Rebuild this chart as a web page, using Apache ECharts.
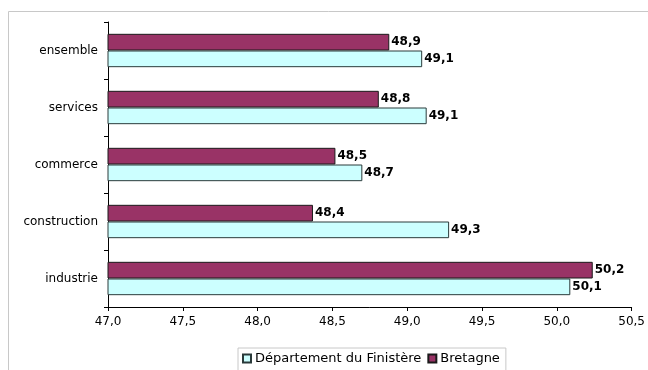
<!DOCTYPE html>
<html>
<head>
<meta charset="utf-8">
<script src="https://cdn.jsdelivr.net/npm/echarts@6/dist/echarts.min.js"></script>
<style>
  html, body { margin: 0; padding: 0; background: #fff; }
  #chart { width: 648px; height: 370px; }
</style>
</head>
<body>
<div id="chart"></div>
<script>
// Data (categories listed bottom to top)
var categories = ['industrie', 'construction', 'commerce', 'services', 'ensemble'];
var finistere = [50.09, 49.28, 48.70, 49.13, 49.10];
var bretagne = [50.24, 48.37, 48.52, 48.81, 48.88];
var seriesNames = ['Département du Finistère', 'Bretagne'];
var xTicks = { min: 47.0, max: 50.5, interval: 0.5 };

function fr(v, d) { return v.toFixed(d).replace('.', ','); }

var FONT = 'DejaVu Sans';
var chart = echarts.init(document.getElementById('chart'), null, { renderer: 'canvas' });

var labelStyle = {
  show: true,
  position: 'right',
  distance: 2,
  color: '#000',
  fontFamily: FONT,
  fontWeight: 'bold',
  fontSize: 12,
  formatter: function (p) { return fr(p.value, 1); }
};

chart.setOption({
  animation: false,
  backgroundColor: '#fff',
  graphic: [{
    type: 'rect',
    shape: { x: 8.5, y: 11.5, width: 700, height: 400 },
    style: { fill: 'none', stroke: '#c8c8c8', lineWidth: 1 },
    silent: true,
    z: -10
  }],
  grid: { left: 108, right: 14, top: 22, bottom: 63, containLabel: false },
  legend: {
    data: seriesNames,
    left: 238,
    top: 348,
    orient: 'horizontal',
    icon: 'rect',
    itemWidth: 8,
    itemHeight: 8,
    itemGap: 6,
    padding: [4, 6, 12, 4],
    borderColor: '#c8c8c8',
    borderWidth: 1,
    textStyle: { fontFamily: FONT, fontSize: 13, color: '#000', padding: [0, 0, 0, -1] }
  },
  xAxis: {
    type: 'value',
    min: xTicks.min,
    max: xTicks.max,
    interval: xTicks.interval,
    axisLine: { show: true, lineStyle: { color: '#000', width: 1 } },
    axisTick: { show: true, length: 4, lineStyle: { color: '#000' } },
    splitLine: { show: false },
    axisLabel: {
      margin: 9,
      color: '#000',
      fontFamily: FONT,
      fontSize: 12,
      formatter: function (v) { return fr(v, 1); }
    }
  },
  yAxis: {
    type: 'category',
    data: categories,
    axisLine: { show: true, lineStyle: { color: '#000', width: 1 } },
    axisTick: { show: true, length: 4, alignWithLabel: false, lineStyle: { color: '#000' } },
    axisLabel: { margin: 10, color: '#000', fontFamily: FONT, fontSize: 12 }
  },
  series: [
    {
      name: seriesNames[1],
      type: 'bar',
      data: bretagne,
      barGap: '0%',
      barCategoryGap: '41.5%',
      itemStyle: { color: '#993366', borderColor: '#1a1a1a', borderWidth: 1 },
      label: labelStyle
    },
    {
      name: seriesNames[0],
      type: 'bar',
      data: finistere,
      barGap: '0%',
      barCategoryGap: '41.5%',
      itemStyle: { color: '#ccffff', borderColor: '#2a3a3a', borderWidth: 1 },
      label: labelStyle
    }
  ]
});
</script>
</body>
</html>
